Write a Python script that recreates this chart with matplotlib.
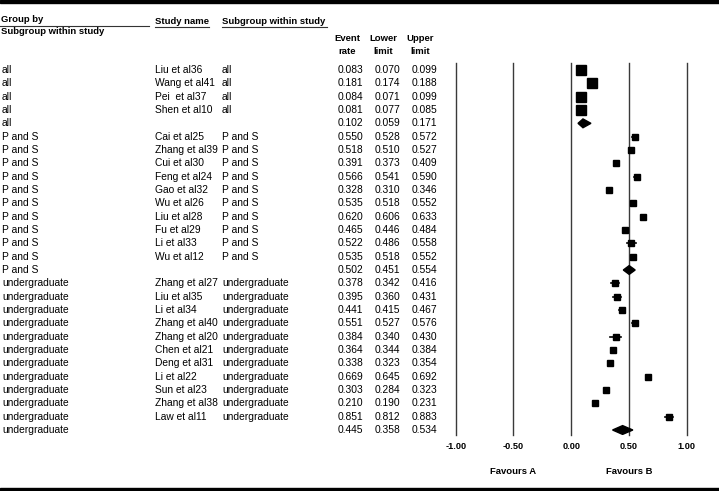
import numpy as np
import matplotlib
matplotlib.use('Agg')
import matplotlib.pyplot as plt
from matplotlib.patches import Polygon, Rectangle
from matplotlib.lines import Line2D
from matplotlib.transforms import blended_transform_factory

plt.rcParams['font.family'] = ['Liberation Sans', 'DejaVu Sans']

# data ('' study name = subgroup summary)
groups = ['all'] * 5 + ['P and S'] * 11 + ['undergraduate'] * 12
study_names = ['Liu et al36', 'Wang et al41', 'Pei  et al37', 'Shen et al10', '',
               'Cai et al25', 'Zhang et al39', 'Cui et al30', 'Feng et al24', 'Gao et al32',
               'Wu et al26', 'Liu et al28', 'Fu et al29', 'Li et al33', 'Wu et al12', '',
               'Zhang et al27', 'Liu et al35', 'Li et al34', 'Zhang et al40', 'Zhang et al20',
               'Chen et al21', 'Deng et al31', 'Li et al22', 'Sun et al23', 'Zhang et al38',
               'Law et al11', '']
event_rate = [0.083, 0.181, 0.084, 0.081, 0.102,
              0.550, 0.518, 0.391, 0.566, 0.328, 0.535, 0.620, 0.465, 0.522, 0.535, 0.502,
              0.378, 0.395, 0.441, 0.551, 0.384, 0.364, 0.338, 0.669, 0.303, 0.210, 0.851, 0.445]
lower = [0.070, 0.174, 0.071, 0.077, 0.059,
         0.528, 0.510, 0.373, 0.541, 0.310, 0.518, 0.606, 0.446, 0.486, 0.518, 0.451,
         0.342, 0.360, 0.415, 0.527, 0.340, 0.344, 0.323, 0.645, 0.284, 0.190, 0.812, 0.358]
upper = [0.099, 0.188, 0.099, 0.085, 0.171,
         0.572, 0.527, 0.409, 0.590, 0.346, 0.552, 0.633, 0.484, 0.558, 0.552, 0.554,
         0.416, 0.431, 0.467, 0.576, 0.430, 0.384, 0.354, 0.692, 0.323, 0.231, 0.883, 0.534]
x_ticks = [-1.0, -0.5, 0.0, 0.5, 1.0]

W, H = 719, 491
fig = plt.figure(figsize=(W / 100, H / 100), dpi=100)


def fx(px):
    return px / W


def fy(py):
    return 1 - py / H


ax = fig.add_axes([fx(455.7), fy(435), fx(686.7) - fx(455.7), (435 - 63) / H])
n = len(groups)
ax.set_xlim(-1, 1)
ax.set_ylim(n - 1 + 0.375, -0.525)
for s in ax.spines.values():
    s.set_visible(False)
ax.set_yticks([])
ax.set_xticks(x_ticks, ['%.2f' % t for t in x_ticks], fontsize=6.6, fontweight='bold')
ax.tick_params(axis='x', length=0, pad=5)

for t in x_ticks:
    ax.axvline(t, color='#3a3a3a', lw=1.0, clip_on=False, zorder=1)

# study markers sized by ~ equal weight within subgroup
for i in range(n):
    if study_names[i] == '':
        h = 0.33
        d = Polygon([(lower[i], i), (event_rate[i], i - h), (upper[i], i), (event_rate[i], i + h)],
                    closed=True, color='black', zorder=3)
        ax.add_patch(d)
    else:
        k = groups.count(groups[i]) - 1
        side = 20 * np.sqrt(1 / k)
        ax.plot([lower[i], upper[i]], [i, i], color='black', lw=1.2, zorder=2)
        ax.plot(event_rate[i], i, marker='s', color='black', ms=side * 0.72, zorder=3)

# table text
tr = blended_transform_factory(fig.transFigure, ax.transData)
fs = 7.4
for i in range(n):
    fig.text(fx(2), i, groups[i], transform=tr, va='center', fontsize=fs)
    if study_names[i] != '':
        fig.text(fx(155), i, study_names[i], transform=tr, va='center', fontsize=fs)
        fig.text(fx(222), i, groups[i], transform=tr, va='center', fontsize=fs)
    fig.text(fx(363), i, '%.3f' % event_rate[i], transform=tr, va='center', ha='right', fontsize=fs)
    fig.text(fx(400), i, '%.3f' % lower[i], transform=tr, va='center', ha='right', fontsize=fs)
    fig.text(fx(437), i, '%.3f' % upper[i], transform=tr, va='center', ha='right', fontsize=fs)

# headers
hs = 6.8
fig.text(fx(1), fy(20), 'Group by', fontsize=hs, fontweight='bold', va='center')
fig.text(fx(1), fy(32), 'Subgroup within study', fontsize=hs, fontweight='bold', va='center')
fig.text(fx(155), fy(21.5), 'Study name', fontsize=hs, fontweight='bold', va='center')
fig.text(fx(222), fy(21.5), 'Subgroup within study', fontsize=hs, fontweight='bold', va='center')
for xc, top, bot in [(347, 'Event', 'rate'), (383, 'Lower', 'limit'), (420, 'Upper', 'limit')]:
    fig.text(fx(xc), fy(38.5), top, fontsize=hs, fontweight='bold', ha='center', va='center')
    fig.text(fx(xc), fy(51), bot, fontsize=hs, fontweight='bold', ha='center', va='center')

for x0, x1, yy in [(0, 149, 25.8), (155, 209, 27), (222, 327, 27)]:
    fig.add_artist(Line2D([fx(x0), fx(x1)], [fy(yy), fy(yy)], color='#333333', lw=0.8))

# favours labels
tr2 = blended_transform_factory(ax.transData, fig.transFigure)
ax.text(-0.5, fy(472), 'Favours A', transform=tr2, ha='center', va='center', fontsize=6.8, fontweight='bold')
ax.text(0.5, fy(472), 'Favours B', transform=tr2, ha='center', va='center', fontsize=6.8, fontweight='bold')

# frame bars
fig.add_artist(Rectangle((0, fy(2.5)), 1, 2.5 / H, transform=fig.transFigure, color='black'))
fig.add_artist(Rectangle((0, fy(490.8)), 1, 2.5 / H, transform=fig.transFigure, color='black'))

fig.savefig('out.png', dpi=100)
